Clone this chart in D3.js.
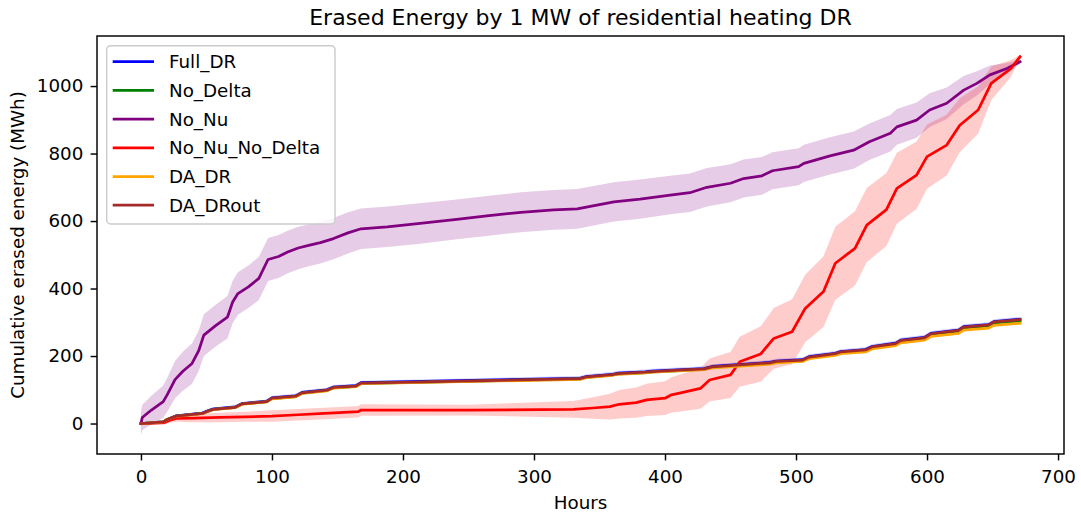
<!DOCTYPE html>
<html><head><meta charset="utf-8">
<script src="https://cdn.jsdelivr.net/npm/d3@7"></script>
<style>
body{margin:0;background:#fff;}
svg{display:block;font-family:"DejaVu Sans",sans-serif;}
</style>
</head><body>
<svg id="chart" width="1081" height="517"></svg>
<script>
// ---------------- DATA ----------------
const titleText = "Erased Energy by 1 MW of residential heating DR";
const xLabelText = "Hours";
const yLabelText = "Cumulative erased energy (MWh)";
const xTicks = [0, 100, 200, 300, 400, 500, 600, 700];
const yTicks = [0, 200, 400, 600, 800, 1000];
const seriesNames = ["Full_DR", "No_Delta", "No_Nu", "No_Nu_No_Delta", "DA_DR", "DA_DRout"];
const seriesColors = ["#0000ff", "#008000", "#800080", "#ff0000", "#ffa500", "#a52a2a"];

// No_Nu
const noNuHours = [0,1,8,17,20,26,32,39,44,48,57,66,70,74,82,90,97,105,112,120,128,137,147,158,168,188,213,241,264,290,315,333,361,381,404,419,432,450,460,474,482,502,506,526,544,556,572,577,592,602,615,628,638,648,661,671];
const noNuValues = [0,18,40,65,85,130,155,178,215,262,290,315,360,385,405,430,486,495,508,520,528,536,548,565,577,583,593,605,615,626,633,636,657,665,677,684,700,712,726,734,749,761,771,793,810,835,860,879,899,929,949,988,1008,1033,1052,1072];
const noNuStd = [34,38,42,48,50,55,58,60,60,62,62,63,63,63,63,64,64,64,63,63,62,62,61,61,60,60,60,59,59,59,59,59,58,58,57,57,57,56,56,56,55,55,55,55,55,54,54,53,52,50,47,42,36,28,16,6];

// No_Nu_No_Delta
const noNuNoDeltaHours = [0,10,18,22,27,40,60,80,100,120,140,155,166,168,250,330,345,358,365,378,386,400,405,412,427,434,450,457,473,483,497,507,521,530,545,554,569,577,592,600,615,625,639,649,664,671];
const noNuNoDeltaValues = [0,1,3,10,15,16,18,20,22,26,30,33,35,40,40,42,46,50,57,62,70,75,85,91,104,129,144,183,206,252,272,341,391,475,519,588,634,697,736,791,825,884,929,1008,1052,1087];
const noNuNoDeltaStd = [3,4,6,8,10,12,14,15,17,17,17,17,17,17,16,25,32,38,42,45,48,50,52,55,60,64,68,74,82,90,96,100,105,108,110,110,108,105,100,95,90,80,70,50,25,5];

// Lower group (shared hour grid)
const lowHours = [0,17,20,27,47,50,55,72,77,96,100,118,123,142,147,164,168,335,340,360,364,385,390,410,430,436,480,485,505,510,530,534,553,558,576,580,598,603,624,628,647,651,671];
const fullDRValues = [0,5,12,23,31,36,43,49,59,66,76,82,92,100,108,112,121,134,139,146,149,153,155,159,163,169,181,185,189,198,208,213,219,228,238,247,255,267,277,287,293,302,309];
const fullDRStd = [0,3,4,4,5,5,5,5,5,5,6,6,6,6,6,6,6,7,7,7,7,7,7,7,7,7,7,7,7,7,7,7,7,7,7,7,7,7,7,7,7,7,7];
const noDeltaValues = [0,5,12,22,30,35,42,48,58,65,74,80,90,98,106,110,119,132,137,144,147,151,153,157,161,167,178,182,186,195,205,210,216,225,235,244,252,263,273,283,289,298,304];
const noDeltaStd = [0,2,2,2,3,3,3,3,3,3,3,3,3,3,3,3,3,3,3,3,3,3,3,3,3,3,3,3,3,3,3,3,3,3,3,3,3,3,3,3,3,3,3];
const daDRValues = [0,5,12,21,29,34,41,47,57,64,73,79,89,97,105,109,118,131,136,143,146,150,152,156,160,165,176,180,184,192,202,207,212,221,231,239,247,258,267,277,283,291,297];
const daDRStd = [0,2,2,2,3,3,3,3,3,3,3,3,3,3,3,3,3,3,3,3,3,3,3,3,3,3,3,3,3,3,3,3,3,3,3,3,3,3,3,3,3,3,3];
const daDRoutValues = [0,5,12,22,30,35,42,48,58,65,75,81,91,99,107,111,120,133,138,145,148,152,154,158,162,168,180,184,188,197,207,212,218,227,237,246,254,266,276,286,292,301,308];
const daDRoutStd = [0,2,2,2,3,3,3,3,3,3,3,3,3,3,3,3,3,3,3,3,3,3,3,3,3,3,3,3,3,3,3,3,3,3,3,3,3,3,3,3,3,3,3];

// ---------------- BUILD ----------------
function zip(h, v, s) { return h.map((d, i) => ({h: d, v: v[i], s: s[i]})); }
const series = [
  {name: seriesNames[0], color: seriesColors[0], data: zip(lowHours, fullDRValues, fullDRStd)},
  {name: seriesNames[1], color: seriesColors[1], data: zip(lowHours, noDeltaValues, noDeltaStd)},
  {name: seriesNames[2], color: seriesColors[2], data: zip(noNuHours, noNuValues, noNuStd)},
  {name: seriesNames[3], color: seriesColors[3], data: zip(noNuNoDeltaHours, noNuNoDeltaValues, noNuNoDeltaStd)},
  {name: seriesNames[4], color: seriesColors[4], data: zip(lowHours, daDRValues, daDRStd)},
  {name: seriesNames[5], color: seriesColors[5], data: zip(lowHours, daDRoutValues, daDRoutStd)}
];

const W = 1081, H = 517;
const plot = {left: 97, right: 1064, top: 36, bottom: 454};
const FS = 18.3;

const allPts = series.flatMap(s => s.data);
const xMin = d3.min(allPts, d => d.h), xMax = d3.max(allPts, d => d.h);
const yMin = d3.min(allPts, d => d.v - d.s), yMax = d3.max(allPts, d => d.v + d.s);
const xPad = (xMax - xMin) * 0.05, yPad = (yMax - yMin) * 0.05;

const x = d3.scaleLinear().domain([xMin - xPad, xMax + xPad]).range([plot.left, plot.right]);
const y = d3.scaleLinear().domain([yMin - yPad, yMax + yPad]).range([plot.bottom, plot.top]);

const svg = d3.select("#chart");
svg.append("rect").attr("width", W).attr("height", H).attr("fill", "#fff");

svg.append("defs").append("clipPath").attr("id", "clip")
  .append("rect").attr("x", plot.left).attr("y", plot.top)
  .attr("width", plot.right - plot.left).attr("height", plot.bottom - plot.top);

const g = svg.append("g").attr("clip-path", "url(#clip)");

const area = d3.area().x(d => x(d.h)).y0(d => y(d.v - d.s)).y1(d => y(d.v + d.s));
const line = d3.line().x(d => x(d.h)).y(d => y(d.v));

// bands first (under all lines)
series.forEach(s => {
  g.append("path").datum(s.data).attr("d", area)
    .attr("fill", s.color).attr("fill-opacity", 0.2).attr("stroke", "none");
});
series.forEach(s => {
  g.append("path").datum(s.data).attr("d", line)
    .attr("fill", "none").attr("stroke", s.color).attr("stroke-width", 2.75)
    .attr("stroke-linejoin", "round").attr("stroke-linecap", "square");
});

// axes
const xAxis = d3.axisBottom(x).tickValues(xTicks).tickFormat(d3.format("d")).tickSize(6.4).tickPadding(9.5).tickSizeOuter(0);
const yAxis = d3.axisLeft(y).tickValues(yTicks).tickFormat(d3.format("d")).tickSize(6.4).tickPadding(7.3).tickSizeOuter(0);

const gx = svg.append("g").attr("transform", `translate(0,${plot.bottom})`).call(xAxis);
const gy = svg.append("g").attr("transform", `translate(${plot.left},0)`).call(yAxis);
[gx, gy].forEach(a => {
  a.select(".domain").remove();
  a.selectAll(".tick line").attr("stroke", "#000").attr("stroke-width", 1.46);
  a.selectAll(".tick text").attr("fill", "#000").attr("font-size", FS).attr("font-family", "DejaVu Sans");
});

// spines
svg.append("rect").attr("x", plot.left).attr("y", plot.top)
  .attr("width", plot.right - plot.left).attr("height", plot.bottom - plot.top)
  .attr("fill", "none").attr("stroke", "#000").attr("stroke-width", 1.46);

// title and labels
svg.append("text").attr("x", (plot.left + plot.right) / 2).attr("y", 24.5)
  .attr("text-anchor", "middle").attr("font-size", 22).attr("fill", "#000").text(titleText);
svg.append("text").attr("x", (plot.left + plot.right) / 2).attr("y", 509)
  .attr("text-anchor", "middle").attr("font-size", FS).attr("fill", "#000").text(xLabelText);
svg.append("text").attr("transform", `translate(24,${(plot.top + plot.bottom) / 2}) rotate(-90)`)
  .attr("text-anchor", "middle").attr("font-size", FS).attr("fill", "#000").text(yLabelText);

// legend
const lg = svg.append("g");
lg.append("rect").attr("x", 106.7).attr("y", 45.7).attr("width", 228.3).attr("height", 178.3)
  .attr("rx", 4).attr("fill", "#fff").attr("fill-opacity", 0.8)
  .attr("stroke", "#cccccc").attr("stroke-width", 1.46);
series.forEach((s, i) => {
  const yy = 61.7 + i * 28.7;
  lg.append("line").attr("x1", 112.7).attr("x2", 154).attr("y1", yy).attr("y2", yy)
    .attr("stroke", s.color).attr("stroke-width", 2.75);
  lg.append("text").attr("x", 169).attr("y", yy).attr("dy", "0.35em")
    .attr("font-size", FS).attr("fill", "#000").text(s.name);
});
</script>
</body></html>
